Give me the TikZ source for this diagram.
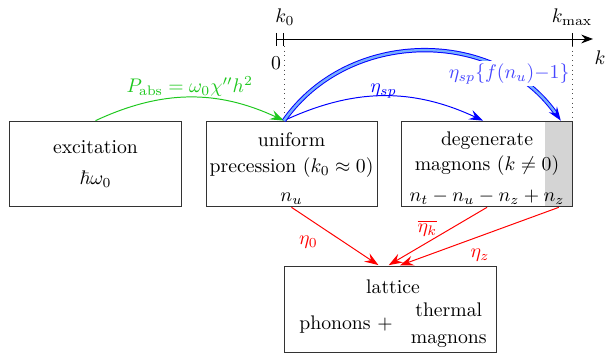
\documentclass[tikz,border=0pt]{standalone}
\usepackage{amsmath,amssymb}
\usetikzlibrary{arrows.meta,calc}
\pgfdeclarelayer{background}
\pgfsetlayers{background,main}
\definecolor{grn}{RGB}{30,200,30}
\definecolor{dblin}{RGB}{120,175,255}
\definecolor{lblue}{RGB}{70,70,255}
\begin{document}
\begin{tikzpicture}[x=0.5076pt,y=-0.5076pt]
\tikzset{
  box/.style={draw=black!80, line width=0.5pt, minimum width=#1, minimum height=43.5pt, align=center, inner sep=1pt},
  tip/.style={-{Stealth[length=7pt,width=5pt,inset=2.5pt]}},
  axtip/.style={-{Stealth[length=6pt,width=4.5pt,inset=2pt]}},
  guide/.style={dotted, black!70, line width=0.4pt},
  redarrow/.style={tip, red, line width=0.5pt, shorten >=1pt},
  lab/.style={inner sep=3.3pt}
}
\useasboundingbox (0,0) rectangle (607,353);
% boxes
\node[box=87pt] (exc) at (95.5,164) {excitation\\[3.5pt] $\hbar\omega_0$};
\node[box=86.8pt] (uni) at (291.5,164) {\rule{0pt}{12pt}uniform\\[1pt] precession ($k_0\approx 0$)\\[3pt] $n_u$};
\node[box=86.6pt] (deg) at (487,164) {\rule{0pt}{11pt}degenerate\\[1pt] magnons ($k\neq 0$)\\[3.5pt] $n_t-n_u-n_z+n_z$};
\begin{pgfonlayer}{background}
\fill[black!17] ($(deg.north east)+(-28,0)$) rectangle (deg.south east);
\end{pgfonlayer}
\node[box=107.6pt] (lat) at (390,309.5) {};
\node[align=center, inner sep=0pt] (lattxt) at (393,316) {lattice\\[1pt] phonons $+$ {\renewcommand\arraystretch{1.15}\begin{tabular}{c@{}}thermal\\ magnons\end{tabular}}};
% axis
\coordinate (k0b) at ($(uni.north west)!0.456!(uni.north east)$);
\coordinate (kmb) at (deg.north east);
\coordinate (tt) at (0,33);
\coordinate (tb) at (0,46);
\coordinate (a0) at (276,39);
\coordinate (aend) at (593,39);
\draw[axtip, line width=0.5pt] (a0) -- (aend);
\draw[line width=0.5pt] (a0 |- tt) -- (a0 |- tb);
\draw[line width=0.5pt] (k0b |- tt) -- (k0b |- tb);
\draw[line width=0.5pt] (kmb |- tt) -- (kmb |- tb);
\draw[guide] (k0b |- tb) -- (k0b);
\draw[guide] (kmb |- tb) -- (kmb);
\node (lk0) at (285,17) {$k_0$};
\node (lzero) at (276,63) {$0$};
\node (lkmax) at (572,17) {$k_{\max}$};
\node (lk) at (600,58) {$k$};
% green
\draw[tip, grn, line width=0.5pt] (exc.north) to[out=25,in=155]
  node[above, inner sep=0.3pt, text=grn] (lP) {$P_{\text{abs}}=\omega_0\chi''h^2$} (k0b);
% thin blue
\draw[tip, blue, line width=0.5pt] (k0b) to[out=25,in=155]
  node[above, inner sep=0pt, yshift=-1.5pt] (lsp) {$\eta_{sp}$} ($(deg.north)+(-4,0)$);
% double blue
\draw[tip, draw=blue, double=dblin, double distance=1.2pt, line width=0.5pt] (k0b) to[out=55,in=125, looseness=1.05]
  node[pos=0.785, fill=white, inner sep=1pt, text=lblue] (lfsp) {$\eta_{sp}\{f(n_u){-}1\}$}
  ($(deg.north east)+(-12,0)$);
% red
\draw[redarrow] (uni.south) -- node[pos=0.375, below left, lab, text=red] (le0) {$\eta_0$} ($(lat.north)+(-10,0)$);
\draw[redarrow] (deg.south) -- node[pos=0.35, left=4pt, lab, text=red] (lek) {$\overline{\eta_k}$} ($(lat.north)+(-3,0)$);
\draw[redarrow] ($(deg.south east)+(-14,0)$) -- node[pos=0.49, below=3pt, lab, text=red] (lez) {$\eta_z$} ($(lat.north)+(8,0)$);
\end{tikzpicture}
\end{document}
